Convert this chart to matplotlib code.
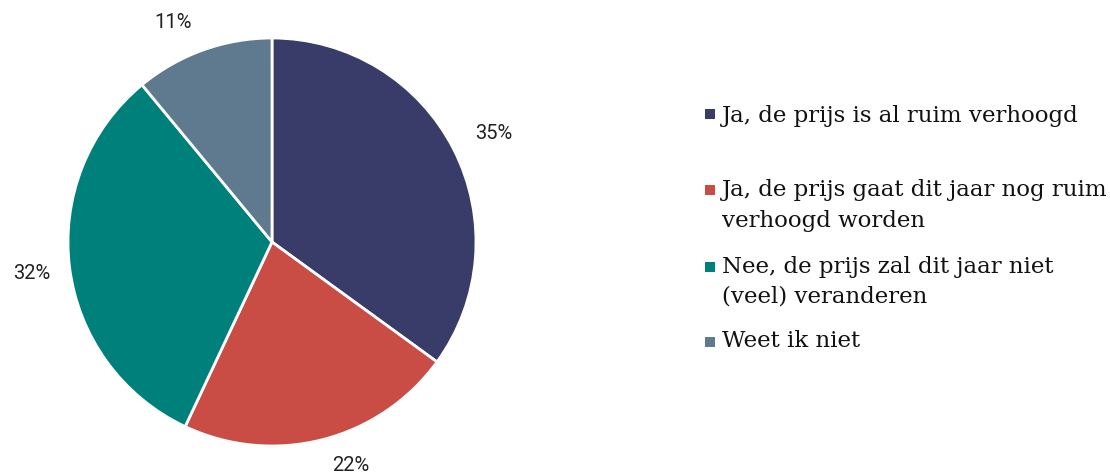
import numpy as np
import matplotlib
matplotlib.use("Agg")
import matplotlib.pyplot as plt
from matplotlib.patches import Rectangle

# Survey answers and their shares (%)
categories = [
    "Ja, de prijs is al ruim verhoogd",
    "Ja, de prijs gaat dit jaar nog ruim\nverhoogd worden",
    "Nee, de prijs zal dit jaar niet\n(veel) veranderen",
    "Weet ik niet",
]
shares = [35, 22, 32, 11]
colors = ["#393b69", "#c94d44", "#00807a", "#5f7a8e"]

W, H = 1110, 474
fig = plt.figure(figsize=(W / 100, H / 100), dpi=100)

# Pie axes: 408 px square, centred at (272, 242) from the top-left corner
cx, cy, r = 272, 242, 204
ax = fig.add_axes([(cx - r) / W, (H - cy - r) / H, 2 * r / W, 2 * r / H])
wedges, _ = ax.pie(
    shares,
    colors=colors,
    startangle=90,
    counterclock=False,
    radius=1.0,
    wedgeprops=dict(edgecolor="white", linewidth=2),
)
ax.set_xlim(-1, 1)
ax.set_ylim(-1, 1)
ax.set_aspect("equal")
ax.axis("off")

# Percentage labels outside each wedge (small angular nudges keep them clear)
nudge = [-1, 5, 0.3, 4.5]
dist = [1.21, 1.16, 1.19, 1.18]
for w, v, dn, d in zip(wedges, shares, nudge, dist):
    ang = np.deg2rad((w.theta1 + w.theta2) / 2 + dn)
    ax.text(d * np.cos(ang), d * np.sin(ang), f"{v}%", ha="center", va="center",
            family="Roboto", fontsize=14.5, color="#222222", clip_on=False)

# Legend drawn by hand: square marker + (possibly two-line) serif label
marker_y = [114, 190, 267, 342]
baselines = [[122], [196, 227], [273, 303], [347]]
sq = 10
for label, col, my, bls in zip(categories, colors, marker_y, baselines):
    fig.patches.append(
        Rectangle((705 / W, (H - my - sq / 2) / H), sq / W, sq / H,
                  transform=fig.transFigure, facecolor=col, edgecolor="none")
    )
    for line, bl in zip(label.split("\n"), bls):
        fig.text(722 / W, (H - bl) / H, line, family="DejaVu Serif",
                 fontsize=16.5, color="#111111", ha="left", va="baseline")

fig.savefig("out.png", dpi=100)
